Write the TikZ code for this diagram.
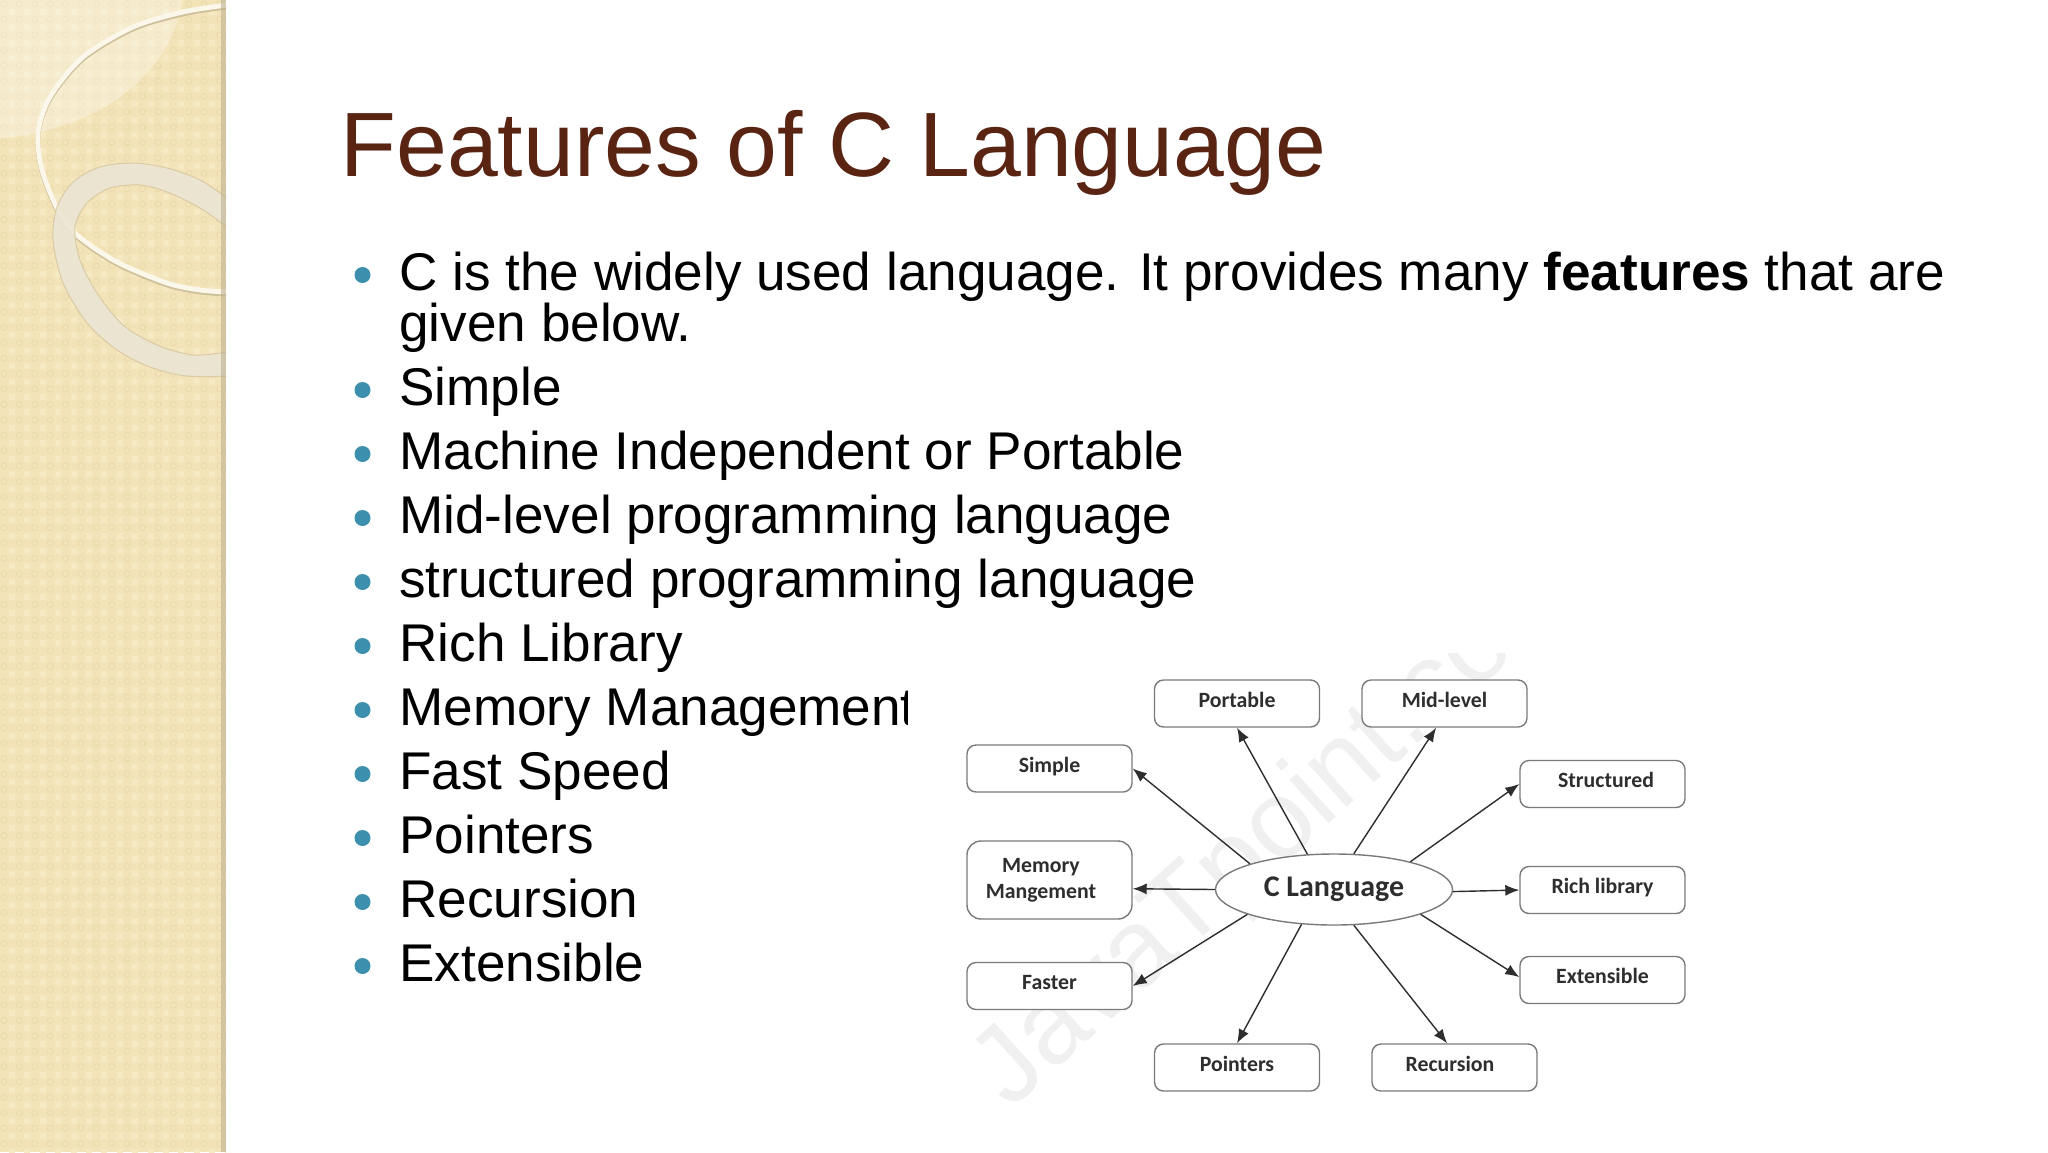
\documentclass[tikz,border=0pt]{standalone}
\usepackage{fontspec}
\setmainfont{Liberation Sans}
\newfontfamily\boxfont{Carlito}
\usetikzlibrary{arrows.meta}
\usetikzlibrary{shapes.geometric}
\definecolor{panelbase}{HTML}{F3E3B8}
\definecolor{panelring}{HTML}{EADAAC}
\definecolor{panellight}{HTML}{F6EAC4}
\definecolor{ringfill}{HTML}{EBE5D3}
\definecolor{ringedge}{HTML}{DACBA4}
\definecolor{titlebrown}{HTML}{5A2413}
\definecolor{bulletblue}{HTML}{3C90AD}
\definecolor{boxline}{HTML}{7A7A7A}
\definecolor{inkdark}{HTML}{2E2E2E}
\tikzstyle{titletext} = [inner sep=0pt, anchor=base west, font=\fontsize{45.7}{46}\selectfont]
\tikzstyle{bodytext} = [inner sep=0pt, anchor=base west, font=\fontsize{26.55}{27}\selectfont]
\tikzstyle{dotmark} = [circle, fill=bulletblue, inner sep=0pt, minimum size=8pt]
\tikzstyle{featbox} = [draw=boxline, fill=white, line width=0.7pt, rectangle, rounded corners=4.5pt,
    inner sep=0pt, minimum width=82.5pt, minimum height=23.5pt, text=inkdark,
    text height=7pt, text depth=3.5pt, font=\boxfont\bfseries\fontsize{10.9}{13}\selectfont]
\tikzstyle{hubnode} = [draw=boxline, fill=white, line width=0.7pt, ellipse, inner sep=0pt,
    minimum width=118.5pt, minimum height=35.5pt, text=inkdark,
    font=\boxfont\bfseries\fontsize{15}{15}\selectfont]
\tikzstyle{feed} = [draw=inkdark, line width=0.7pt, -{Latex[length=7pt,width=5.5pt]}]
\def\thinring{(227,5) (183,12) (133,27) (83,57) (50,97) (38,133) (42,170) (58,210) (77,235) (117,262) (167,283) (200,290) (227,292)}

\begin{document}
\begin{tikzpicture}[x=0.5pt, y=-0.5pt]
    \useasboundingbox (0,0) rectangle (2048,1152);
    % side panel
    \begin{scope}
        \clip (0,0) rectangle (226,1152);
        \fill[panelbase] (0,0) rectangle (226,1152);
        \foreach \i in {0,...,14}
            \foreach \j in {0,...,74} {
                \fill[panellight] (\i*15.4+9,\j*15.4+9) rectangle +(6,6);
                \draw[panelring, line width=0.5pt] (\i*15.4+4,\j*15.4+4) circle (3);
            }
        \fill[white, opacity=0.3] (0,0) -- (0,138) .. controls (60,135) and (165,100) .. (183,0) -- cycle;
        \draw[line width=2.4pt, draw=black!15!panelbase, yshift=-1pt]
            plot[smooth] coordinates {\thinring};
        \draw[line width=2.4pt, draw=white!70!panelbase]
            plot[smooth] coordinates {\thinring};
        \fill[even odd rule, fill=ringfill, fill opacity=0.93, draw=ringedge, line width=0.5pt]
            plot[smooth] coordinates {(227,198) (200,180) (167,168) (133,163) (100,167) (73,182) (57,207) (53,240) (63,283) (87,323) (117,350) (150,367) (187,376) (240,376)}
            -- (240,352)
            plot[smooth] coordinates {(227,352) (193,355) (157,345) (123,325) (97,293) (80,260) (75,227) (87,203) (110,188) (140,185) (167,192) (200,208) (227,227)}
            -- (240,240) -- cycle;
        \fill[black!22!panelbase, opacity=0.6] (221,0) rectangle (226,1152);
    \end{scope}

    % title and list
    \node[titletext, text=titlebrown] (title) at (340,176) {Features of C Language};
    \node[bodytext] (line0) at (399,290) {C is the widely used language. It provides many \textbf{features} that are};
    \node[bodytext] (line00) at (399,341.5) {given below.};
    \node[dotmark] (dot0) at (362.5,275) {};
    \foreach \name/\txt [count=\k from 0] in {simple/Simple, machine/Machine Independent or Portable,
        midlevel/Mid-level programming language, structured/structured programming language,
        rich/Rich Library, memory/Memory Management, speed/Fast Speed, pointers/Pointers,
        recursion/Recursion, extensible/Extensible} {
        \node[dotmark] (dot\name) at (362.5,390+64*\k) {};
        \node[bodytext] (line\name) at (399,405+64*\k) {\txt};
    }

    % the pasted figure
    \fill[white] (908,640) rectangle (1720,1110);
    \begin{scope}
        \clip (960,653) rectangle (1720,1100);
        \node[rotate=42, anchor=base west, inner sep=0pt, text=black!6, font=\fontsize{55}{55}\selectfont] (mark) at (1010,1111) {JavaTpoint.com};
    \end{scope}

    \node[hubnode] (hub) at (1334,889.5) {C Language};
    \node[featbox] (portable) at (1237,703.5) {Portable};
    \node[featbox] (midbox) at (1444.5,703.5) {Mid-level};
    \node[featbox] (simplebox) at (1049.5,768.5) {Simple};
    \node[featbox] (structbox) at (1602.5,784) {\hspace*{3.5pt}Structured};
    \node[featbox, minimum height=39pt, rounded corners=7pt, align=center, text height=, text depth=] (membox) at (1049.5,880)
        {\hspace*{-8.5pt}Memory\\\hspace*{-8.5pt}Mangement};
    \node[featbox] (richbox) at (1602.5,890) {Rich library};
    \node[featbox] (fastbox) at (1049.5,986) {Faster};
    \node[featbox] (extbox) at (1602.5,980) {Extensible};
    \node[featbox] (pointbox) at (1237,1067.5) {Pointers};
    \node[featbox] (recbox) at (1454.5,1067.5) {\hspace*{-4.5pt}Recursion};

    \draw[feed] (hub.163) -- (simplebox.east);
    \draw[feed] (hub.127.5) -- (portable.south);
    \draw[feed] (hub.61) -- (midbox.251);
    \draw[feed] (hub.20) -- (structbox.west);
    \draw[feed] (hub.west) -- (membox.354);
    \draw[feed] (hub.359) -- (richbox.west);
    \draw[feed] (hub.196) -- (fastbox.east);
    \draw[feed] (hub.344) -- (extbox.178);
    \draw[feed] (hub.227) -- (pointbox.north);
    \draw[feed] (hub.299) -- (recbox.107);
\end{tikzpicture}
\end{document}
